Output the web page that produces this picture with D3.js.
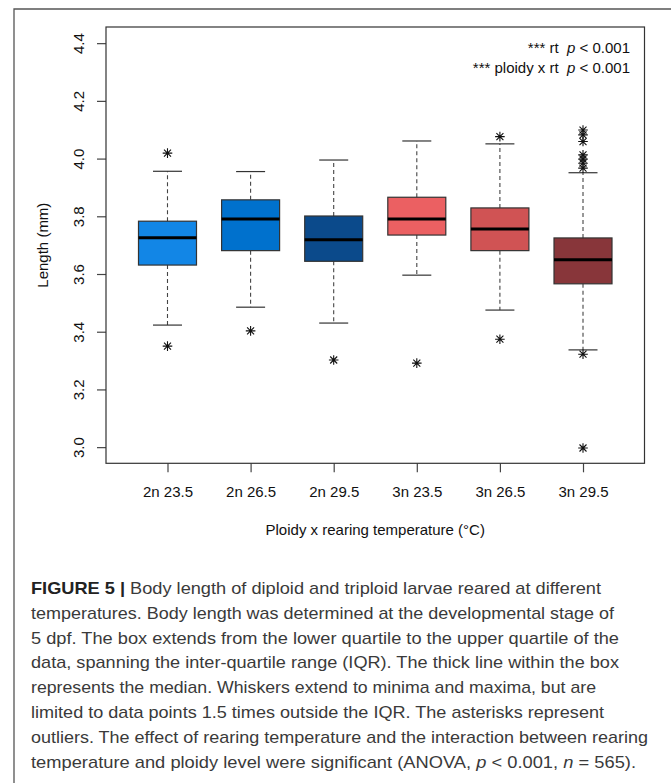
<!DOCTYPE html>
<html>
<head>
<meta charset="utf-8">
<script src="https://cdn.jsdelivr.net/npm/d3@7"></script>
<style>
  body { margin: 0; background: #fff; }
  svg { display: block; font-family: "Liberation Sans", Arial, Helvetica, sans-serif; }
</style>
</head>
<body>
<div id="chart"></div>
<script>
// Body length boxplot, ploidy x rearing temperature

const groups = ["2n 23.5", "2n 26.5", "2n 29.5", "3n 23.5", "3n 26.5", "3n 29.5"];
const whiskerLow = [3.423, 3.485, 3.430, 3.596, 3.475, 3.337];
const q1 = [3.631, 3.681, 3.644, 3.735, 3.681, 3.566];
const medians = [3.726, 3.791, 3.719, 3.791, 3.756, 3.649];
const q3 = [3.783, 3.857, 3.801, 3.866, 3.829, 3.725];
const whiskerHigh = [3.956, 3.955, 3.995, 4.061, 4.051, 3.951];
const outliers = [
  [4.019, 3.350],
  [3.403],
  [3.302],
  [3.291],
  [4.076, 3.374],
  [4.099, 4.082, 4.059, 4.013, 3.998, 3.984, 3.967, 3.322, 2.997]
];
const yTicks = [3.0, 3.2, 3.4, 3.6, 3.8, 4.0, 4.2, 4.4];
const boxColors = ["#1286e6", "#0071cd", "#0b4a8b", "#eb6062", "#d05354", "#88363a"];

const captionLines = [
  "Body length of diploid and triploid larvae reared at different",
  "temperatures. Body length was determined at the developmental stage of",
  "5 dpf. The box extends from the lower quartile to the upper quartile of the",
  "data, spanning the inter-quartile range (IQR). The thick line within the box",
  "represents the median. Whiskers extend to minima and maxima, but are",
  "limited to data points 1.5 times outside the IQR. The asterisks represent",
  "outliers. The effect of rearing temperature and the interaction between rearing",
  "temperature and ploidy level were significant (ANOVA, "
];
const captionEnds = [601, 614, 619, 619, 596, 604, 648, 636];

const W = 671, H = 783;
const plot = { left: 106, right: 644.5, top: 27, bottom: 463.3 };
const fs = "15px";

const svg = d3.select("#chart").append("svg")
  .attr("width", W)
  .attr("height", H);

svg.append("rect").attr("width", W).attr("height", H).attr("fill", "#fff");

// outer figure frame (left + top)
svg.append("path")
  .attr("d", `M14,${H} L14,9 L${W},9`)
  .attr("fill", "none")
  .attr("stroke", "#555")
  .attr("stroke-width", 1.3);

const x = d3.scaleLinear().domain([0.26, 6.74]).range([plot.left, plot.right]);
const y = d3.scaleLinear().domain([2.944, 4.456]).range([plot.bottom, plot.top]);

const boxW = 58;
const capW = 29;

// axes
const yAxis = svg.append("g")
  .attr("transform", `translate(${plot.left},0)`)
  .call(d3.axisLeft(y).tickValues(yTicks).tickFormat(d3.format(".1f")).tickSize(9).tickSizeOuter(0));
yAxis.select(".domain").remove();
yAxis.selectAll("line").attr("stroke", "#444").attr("stroke-width", 1.2);
yAxis.selectAll("text")
  .attr("transform", "rotate(-90)")
  .attr("x", 0)
  .attr("y", -27)
  .attr("dy", "0.35em")
  .attr("text-anchor", "middle")
  .attr("fill", "#111")
  .style("font-size", fs)
  .style("font-family", "'Liberation Sans', Arial, sans-serif");

const xAxis = svg.append("g")
  .attr("transform", `translate(0,${plot.bottom})`)
  .call(d3.axisBottom(x).tickValues(d3.range(1, groups.length + 1)).tickFormat(d => groups[d - 1]).tickSize(9).tickSizeOuter(0));
xAxis.select(".domain").remove();
xAxis.selectAll("line").attr("stroke", "#444").attr("stroke-width", 1.2);
xAxis.selectAll("text")
  .attr("y", 28.5)
  .attr("dy", "0.35em")
  .attr("fill", "#111")
  .style("font-size", fs)
  .style("font-family", "'Liberation Sans', Arial, sans-serif");

// boxes
const boxes = svg.append("g");
groups.forEach((g, i) => {
  const cx = x(i + 1);
  const b = boxes.append("g");

  // whiskers
  b.append("line")
    .attr("x1", cx).attr("x2", cx)
    .attr("y1", y(q3[i])).attr("y2", y(whiskerHigh[i]))
    .attr("stroke", "#444").attr("stroke-width", 1.1)
    .attr("stroke-dasharray", "4,3");
  b.append("line")
    .attr("x1", cx).attr("x2", cx)
    .attr("y1", y(q1[i])).attr("y2", y(whiskerLow[i]))
    .attr("stroke", "#444").attr("stroke-width", 1.1)
    .attr("stroke-dasharray", "4,3");
  [whiskerHigh[i], whiskerLow[i]].forEach(v => {
    b.append("line")
      .attr("x1", cx - capW / 2).attr("x2", cx + capW / 2)
      .attr("y1", y(v)).attr("y2", y(v))
      .attr("stroke", "#333").attr("stroke-width", 1.2);
  });

  b.append("rect")
    .attr("x", cx - boxW / 2)
    .attr("width", boxW)
    .attr("y", y(q3[i]))
    .attr("height", y(q1[i]) - y(q3[i]))
    .attr("fill", boxColors[i])
    .attr("stroke", "#333")
    .attr("stroke-width", 1.2);

  b.append("line")
    .attr("x1", cx - boxW / 2).attr("x2", cx + boxW / 2)
    .attr("y1", y(medians[i])).attr("y2", y(medians[i]))
    .attr("stroke", "#000").attr("stroke-width", 3);

  // outliers as asterisks
  outliers[i].forEach(v => {
    const oy = y(v);
    const r = 4.8, d = 3.5;
    b.append("path")
      .attr("d", `M${cx - r},${oy}H${cx + r}M${cx},${oy - r}V${oy + r}` +
        `M${cx - d},${oy - d}L${cx + d},${oy + d}M${cx - d},${oy + d}L${cx + d},${oy - d}`)
      .attr("stroke", "#111")
      .attr("stroke-width", 1.1)
      .attr("fill", "none");
  });
});

// plot frame
svg.append("rect")
  .attr("x", plot.left).attr("y", plot.top)
  .attr("width", plot.right - plot.left)
  .attr("height", plot.bottom - plot.top)
  .attr("fill", "none")
  .attr("stroke", "#333")
  .attr("stroke-width", 1.2);

// significance annotation
const ann = svg.append("g").style("font-size", fs).attr("fill", "#111");
[["*** rt  ", 52.7], ["*** ploidy x rt  ", 72.5]].forEach(([lbl, yy]) => {
  const t = ann.append("text")
    .attr("x", 630).attr("y", yy)
    .attr("text-anchor", "end")
    .attr("xml:space", "preserve");
  t.append("tspan").text(lbl);
  t.append("tspan").style("font-style", "italic").text("p");
  t.append("tspan").text(" < 0.001");
});

// axis titles
svg.append("text")
  .attr("transform", `translate(43,${(plot.top + plot.bottom) / 2}) rotate(-90)`)
  .attr("text-anchor", "middle")
  .attr("dy", "0.35em")
  .attr("fill", "#111")
  .style("font-size", fs)
  .text("Length (mm)");

svg.append("text")
  .attr("x", (plot.left + plot.right) / 2)
  .attr("y", 534.5)
  .attr("text-anchor", "middle")
  .attr("fill", "#111")
  .style("font-size", fs)
  .text("Ploidy x rearing temperature (°C)");

// caption
const cap = svg.append("g").style("font-size", "17px").attr("fill", "#3a3a3a");
captionLines.forEach((line, i) => {
  const t = cap.append("text")
    .attr("x", 31)
    .attr("y", 594 + i * 24.8)
    .attr("textLength", captionEnds[i] - 31)
    .attr("lengthAdjust", "spacingAndGlyphs");
  if (i === 0) {
    t.append("tspan").style("font-weight", "bold").attr("fill", "#222").text("FIGURE 5 | ");
  }
  t.append("tspan").text(line);
  if (i === captionLines.length - 1) {
    t.append("tspan").style("font-style", "italic").text("p");
    t.append("tspan").text(" < 0.001, ");
    t.append("tspan").style("font-style", "italic").text("n");
    t.append("tspan").text(" = 565).");
  }
});
</script>
</body>
</html>
